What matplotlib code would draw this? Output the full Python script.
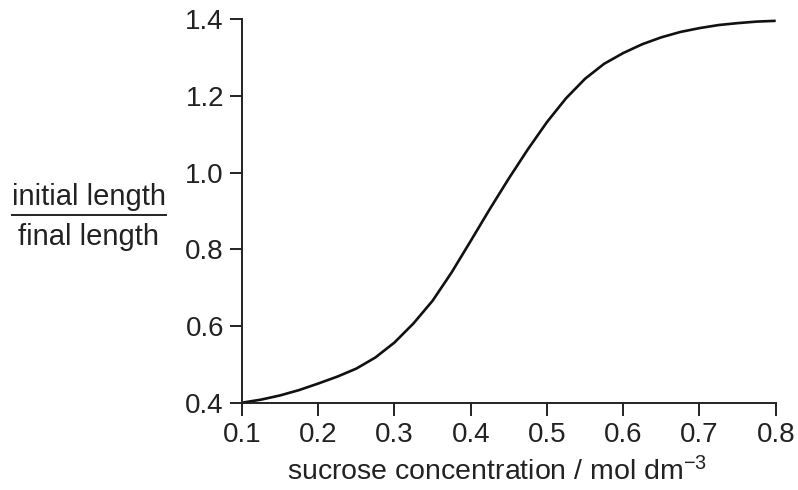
import matplotlib.pyplot as plt

plt.rcParams["font.family"] = ["Liberation Sans", "DejaVu Sans"]
plt.rcParams["mathtext.fontset"] = "custom"
plt.rcParams["mathtext.rm"] = "Liberation Sans"
plt.rcParams["mathtext.it"] = "Liberation Sans:italic"

# sucrose concentration / mol dm-3
concentration = [0.100, 0.125, 0.150, 0.175, 0.200, 0.225, 0.250, 0.275, 0.300,
                 0.325, 0.350, 0.375, 0.400, 0.425, 0.450, 0.475, 0.500, 0.525,
                 0.550, 0.575, 0.600, 0.625, 0.650, 0.675, 0.700, 0.725, 0.750,
                 0.775, 0.800]
# initial length / final length
length_ratio = [0.400, 0.408, 0.419, 0.433, 0.450, 0.468, 0.489, 0.518, 0.557,
                0.607, 0.666, 0.740, 0.822, 0.905, 0.985, 1.061, 1.132, 1.194,
                1.245, 1.284, 1.312, 1.335, 1.353, 1.367, 1.377, 1.385, 1.390,
                1.394, 1.396]

x_ticks = [0.1, 0.2, 0.3, 0.4, 0.5, 0.6, 0.7, 0.8]
y_ticks = [0.4, 0.6, 0.8, 1.0, 1.2, 1.4]

W, H = 798, 490
fig = plt.figure(figsize=(W / 100, H / 100), dpi=100)
ax = fig.add_axes([242 / W, 1 - 402.7 / H, (775.7 - 242) / W, (402.7 - 19.3) / H])

ax.plot(concentration, length_ratio, color="#111111", lw=1.9, clip_on=False,
        solid_capstyle="butt", solid_joinstyle="round")

ax.set_xlim(0.1, 0.8)
ax.set_ylim(0.4, 1.4)
ax.set_xticks(x_ticks)
ax.set_yticks(y_ticks)
ax.set_xticklabels([f"{v:.1f}" for v in x_ticks])
ax.set_yticklabels([f"{v:.1f}" for v in y_ticks])

for side in ["top", "right"]:
    ax.spines[side].set_visible(False)
for side in ["left", "bottom"]:
    ax.spines[side].set_linewidth(1.4)
    ax.spines[side].set_color("#222222")

ax.tick_params(axis="both", direction="out", length=9, width=1.4,
               color="#222222", labelsize=20, labelcolor="#222222")
ax.tick_params(axis="x", pad=5)
ax.tick_params(axis="y", pad=4)

ax.set_xlabel(r"sucrose concentration / mol dm$^{-3}$", fontsize=20.5,
              color="#222222")
ax.xaxis.set_label_coords(0.478, -0.143)

# y label written as a fraction
cx = 88.7 / W
fig.text(cx, 1 - 205 / H, "initial length", fontsize=21, ha="center",
         va="baseline", color="#222222")
fig.text(cx, 1 - 245 / H, "final length", fontsize=21, ha="center",
         va="baseline", color="#222222")
fig.add_artist(plt.Line2D([11.7 / W, 165.7 / W], [1 - 215 / H, 1 - 215 / H],
                          color="#222222", lw=1.4, transform=fig.transFigure))

fig.savefig("out.png", dpi=100)
